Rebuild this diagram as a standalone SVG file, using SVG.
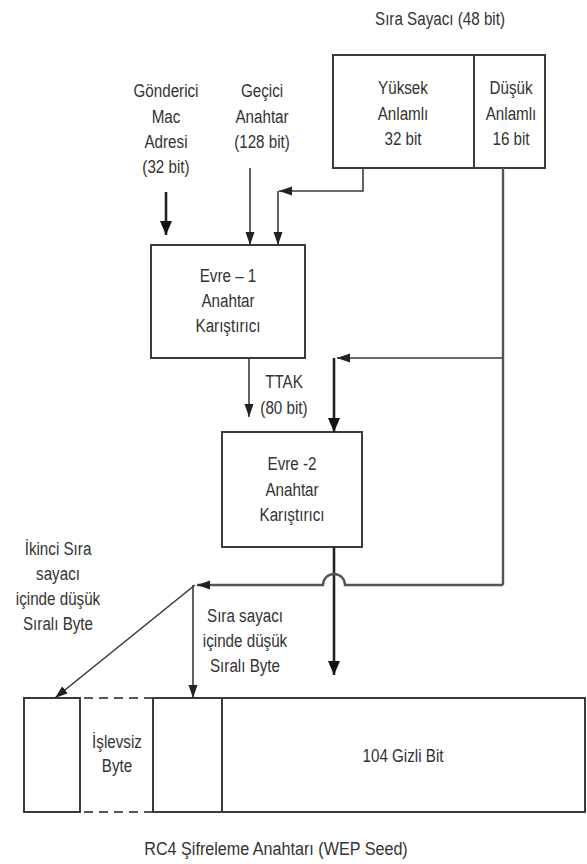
<svg xmlns="http://www.w3.org/2000/svg" width="587" height="864" viewBox="0 0 587 864">
<style>
text{font-family:"Liberation Sans",Arial,sans-serif;font-size:19px;fill:#333;text-anchor:middle}
.box{fill:#fff;stroke:#3a3a3a;stroke-width:2}
.ln{fill:none;stroke:#3a3a3a;stroke-width:1.6}
.bold{fill:none;stroke:#222;stroke-width:2.6}
.gray{fill:none;stroke:#555;stroke-width:2.4}
.dash{fill:none;stroke:#555;stroke-width:2;stroke-dasharray:9 6}
</style>
<defs>
<marker id="ah" markerUnits="userSpaceOnUse" markerWidth="14" markerHeight="10" refX="13" refY="4.5" orient="auto">
<path d="M0,0 L13,4.5 L0,9 z" fill="#222"/>
</marker>
<marker id="ahb" markerUnits="userSpaceOnUse" markerWidth="15" markerHeight="13" refX="14" refY="6" orient="auto">
<path d="M0,0 L14,6 L0,12 z" fill="#111"/>
</marker>
</defs>
<rect width="587" height="864" fill="#fff"/>

<g id="sira-sayaci">
<g transform="translate(440,0) scale(0.8,1)"><text y="25">Sıra Sayacı (48 bit)</text></g>
<rect class="box" x="333" y="55" width="212" height="113"/>
<line class="box" x1="474" y1="55" x2="474" y2="168"/>
<g transform="translate(403,0) scale(0.8,1)">
<text y="94">Yüksek</text>
<text y="120">Anlamlı</text>
<text y="145">32 bit</text>
</g>
<g transform="translate(511,0) scale(0.8,1)">
<text y="94">Düşük</text>
<text y="120">Anlamlı</text>
<text y="145">16 bit</text>
</g>
</g>

<g id="gonderici" transform="translate(166,0) scale(0.8,1)">
<text y="97">Gönderici</text>
<text y="123">Mac</text>
<text y="148">Adresi</text>
<text y="173">(32 bit)</text>
</g>

<g id="gecici" transform="translate(262,0) scale(0.8,1)">
<text y="97">Geçici</text>
<text y="123">Anahtar</text>
<text y="148">(128 bit)</text>
</g>

<g id="evre1">
<rect class="box" x="151" y="245" width="154" height="113"/>
<g transform="translate(228,0) scale(0.8,1)">
<text y="282">Evre – 1</text>
<text y="307">Anahtar</text>
<text y="332">Karıştırıcı</text>
</g>
</g>

<g id="ttak" transform="translate(284,0) scale(0.8,1)">
<text y="388">TTAK</text>
<text y="414">(80 bit)</text>
</g>

<g id="evre2">
<rect class="box" x="222" y="432" width="140" height="115"/>
<g transform="translate(292,0) scale(0.8,1)">
<text y="470">Evre -2</text>
<text y="496">Anahtar</text>
<text y="521">Karıştırıcı</text>
</g>
</g>

<g id="label-ikinci" transform="translate(58,0) scale(0.8,1)">
<text y="555">İkinci Sıra</text>
<text y="580">sayacı</text>
<text y="605">içinde düşük</text>
<text y="630">Sıralı Byte</text>
</g>

<g id="label-sira" transform="translate(245,0) scale(0.8,1)">
<text y="622">Sıra sayacı</text>
<text y="647">içinde düşük</text>
<text y="672">Sıralı Byte</text>
</g>

<g id="rc4-seed">
<rect class="box" x="24" y="698" width="56" height="114"/>
<line class="dash" x1="84" y1="698" x2="153" y2="698"/>
<line class="dash" x1="84" y1="812" x2="153" y2="812"/>
<rect class="box" x="153" y="698" width="69" height="114"/>
<rect class="box" x="222" y="698" width="363" height="114"/>
<g transform="translate(117,0) scale(0.8,1)">
<text y="748">İşlevsiz</text>
<text y="772">Byte</text>
</g>
<g transform="translate(403,0) scale(0.8,1)"><text y="762">104 Gizli Bit</text></g>
<g transform="translate(276,0) scale(0.85,1)"><text y="855">RC4 Şifreleme Anahtarı (WEP Seed)</text></g>
</g>

<g id="connectors">
<line class="bold" x1="166" y1="192" x2="166" y2="235" marker-end="url(#ahb)"/>
<line class="ln" x1="250" y1="168" x2="250" y2="245" marker-end="url(#ah)"/>
<polyline class="ln" points="363,168 363,191 279,191" marker-end="url(#ah)"/>
<line class="ln" x1="278" y1="191" x2="278" y2="245" marker-end="url(#ah)"/>
<line class="gray" x1="503" y1="168" x2="503" y2="585"/>
<line class="ln" x1="503" y1="358" x2="337" y2="358" marker-end="url(#ah)"/>
<line class="bold" x1="334" y1="358" x2="334" y2="432" marker-end="url(#ahb)"/>
<line class="ln" x1="249" y1="358" x2="249" y2="417" marker-end="url(#ah)"/>
<line class="bold" x1="334" y1="547" x2="334" y2="675" marker-end="url(#ahb)"/>
<path class="gray" d="M503,585 L345,585 A11,11 0 0 0 323,585 L197,585" marker-end="url(#ah)"/>
<line class="ln" x1="195" y1="585" x2="55" y2="698" marker-end="url(#ah)"/>
<line class="ln" x1="193" y1="585" x2="193" y2="698" marker-end="url(#ah)"/>
</g>
</svg>
